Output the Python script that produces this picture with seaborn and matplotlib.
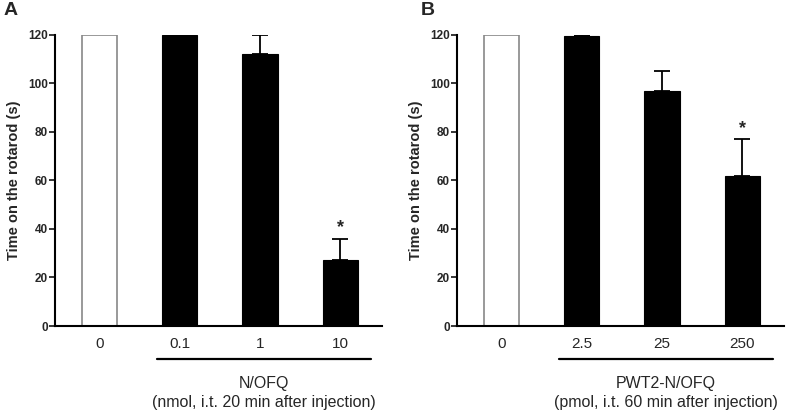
import matplotlib
matplotlib.use("Agg")
import matplotlib.pyplot as plt
import pandas as pd
import seaborn as sns

# Panel A: N/OFQ (nmol)
doses_a = ["0", "0.1", "1", "10"]
time_a = [120, 120, 112, 27]
sem_a = [0, 0, 8, 9]
sig_a = [False, False, False, True]

# Panel B: PWT2-N/OFQ (pmol)
doses_b = ["0", "2.5", "25", "250"]
time_b = [120, 119.5, 97, 62]
sem_b = [0, 0.5, 8, 15]
sig_b = [False, False, False, True]

sns.set_style("ticks")
plt.rcParams["font.family"] = ["Liberation Sans", "DejaVu Sans"]

fig = plt.figure(figsize=(7.88, 4.16), dpi=100)
ax_a = fig.add_axes([0.0698, 0.2163, 0.415, 0.70])
ax_b = fig.add_axes([0.580, 0.2163, 0.415, 0.70])


def panel(ax, doses, values, sem, sig, drug, unit_text):
    df = pd.DataFrame({"dose": doses, "time": values})
    colors = ["white"] + ["black"] * (len(doses) - 1)
    sns.barplot(data=df, x="dose", y="time", hue="dose", palette=colors,
                legend=False, errorbar=None, width=0.44, ax=ax,
                edgecolor="black", linewidth=0.8)
    # grey outline on the vehicle bar
    ax.patches[0].set_edgecolor("#888888")
    ax.patches[0].set_linewidth(1.2)
    xs = list(range(len(doses)))
    ax.errorbar(xs[1:], values[1:], yerr=[[0] * (len(xs) - 1), sem[1:]],
                fmt="none", ecolor="black", elinewidth=1.3, capsize=6,
                capthick=1.3, zorder=1)
    for x, v, s, flag in zip(xs, values, sem, sig):
        if flag:
            ax.text(x, v + s + 1.0, "*", ha="center", va="bottom",
                    fontsize=13, fontweight="bold")

    ax.set_xlim(-0.55, 3.52)
    ax.set_ylim(0, 120)
    ax.set_yticks(range(0, 121, 20))
    ax.set_xlabel("")
    ax.set_ylabel("Time on the rotarod (s)", fontsize=10.5, fontweight="bold",
                  labelpad=5)
    ax.tick_params(axis="y", labelsize=8.5, width=1.3, length=4, pad=1)
    for lab in ax.get_yticklabels():
        lab.set_fontweight("bold")
    ax.tick_params(axis="x", length=0, labelsize=11, pad=8)
    for side in ["top", "right"]:
        ax.spines[side].set_visible(False)
    for side in ["left", "bottom"]:
        ax.spines[side].set_linewidth(1.5)
        ax.spines[side].set_color("black")

    # bracket under the treated doses
    ax.plot([0.72, 3.38], [-13.5, -13.5], color="black", lw=1.6,
            clip_on=False, transform=ax.transData)
    ax.text(2.05, -20.5, drug, ha="center", va="top", fontsize=11.5)
    ax.text(2.05, -28.5, unit_text, ha="center", va="top", fontsize=11.5)


panel(ax_a, doses_a, time_a, sem_a, sig_a, "N/OFQ",
      "(nmol, i.t. 20 min after injection)")
panel(ax_b, doses_b, time_b, sem_b, sig_b, "PWT2-N/OFQ",
      "(pmol, i.t. 60 min after injection)")

fig.text(0.004, 0.995, "A", fontsize=14, fontweight="bold", ha="left", va="top")
fig.text(0.534, 0.995, "B", fontsize=14, fontweight="bold", ha="left", va="top")

fig.savefig("out.png", dpi=100)
